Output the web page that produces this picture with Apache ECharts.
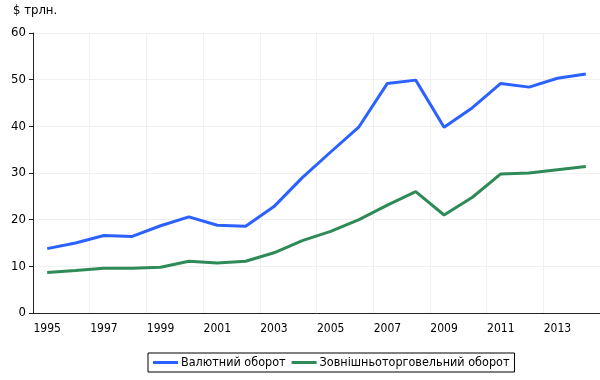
<!DOCTYPE html>
<html><head><meta charset="utf-8">
<script src="https://cdn.jsdelivr.net/npm/echarts@6/dist/echarts.min.js"></script>
<style>html,body{margin:0;padding:0;background:#fff}#c{width:600px;height:380px}</style>
</head><body><div id="c"></div>
<script>
const years = ['1995','1996','1997','1998','1999','2000','2001','2002','2003','2004','2005','2006','2007','2008','2009','2010','2011','2012','2013','2014'];
const fxTurnover = [13.8,15.0,16.6,16.4,18.7,20.6,18.8,18.6,22.8,29.0,34.5,39.9,49.2,49.9,39.8,44.0,49.2,48.4,50.3,51.2];
const tradeTurnover = [8.7,9.1,9.6,9.6,9.8,11.1,10.7,11.1,12.9,15.5,17.5,20.0,23.1,26.0,21.0,24.8,29.8,30.0,30.7,31.4];
const seriesNames = ['Валютний оборот','Зовнішньоторговельний оборот'];
const yTicks = [0,10,20,30,40,50,60];
const unitLabel = '$ трлн.';

const font = 'DejaVu Sans Condensed';
const chart = echarts.init(document.getElementById('c'), null, {renderer:'canvas'});
chart.setOption({
  animation:false,
  backgroundColor:'#fff',
  textStyle:{fontFamily:font},
  graphic:[{type:'text', left:13, top:4, style:{text:unitLabel, font:'13px "DejaVu Sans Condensed"', fill:'#000'}}],
  grid:{left:33, top:33, right:-11, bottom:67, containLabel:false},
  legend:{
    left:148, top:353, padding:[3,5,3,5], itemGap:6, itemWidth:25, itemHeight:3,
    borderColor:'#000', borderWidth:1, borderRadius:0,
    icon:'rect',
    textStyle:{fontFamily:font, fontSize:12.5, color:'#000', padding:[0,0,0,-2]},
    data:seriesNames
  },
  xAxis:{
    type:'category', data:years, boundaryGap:true,
    axisLine:{lineStyle:{color:'#222', width:1}},
    axisTick:{interval:1, length:4, lineStyle:{color:'#222'}},
    axisLabel:{interval:1, fontFamily:font, fontSize:12, color:'#000', margin:10},
    splitLine:{show:true, interval:1, lineStyle:{color:'#f0f0f0'}}
  },
  yAxis:{
    type:'value', min:yTicks[0], max:yTicks[yTicks.length-1], interval:10,
    axisLine:{show:true, lineStyle:{color:'#222', width:1}},
    axisTick:{show:true, length:4, lineStyle:{color:'#222'}},
    axisLabel:{fontFamily:font, fontSize:13, color:'#000', margin:7},
    splitLine:{lineStyle:{color:'#f0f0f0'}}
  },
  series:[
    {name:seriesNames[0], type:'line', data:fxTurnover, symbol:'none', lineStyle:{width:3, color:'#2b62ff'}, itemStyle:{color:'#2b62ff'}},
    {name:seriesNames[1], type:'line', data:tradeTurnover, symbol:'none', lineStyle:{width:3, color:'#2e8b57'}, itemStyle:{color:'#2e8b57'}}
  ]
});
</script></body></html>
